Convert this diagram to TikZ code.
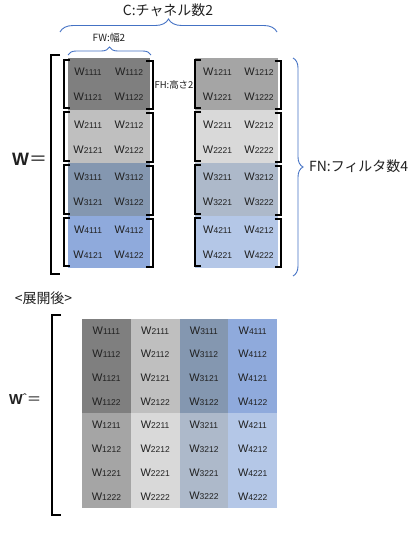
\documentclass[tikz,border=0pt]{standalone}
\usepackage{fontspec}
\setmainfont{Liberation Sans}
\newfontfamily\jp{Noto Sans CJK JP}
\usetikzlibrary{decorations.pathreplacing,calc}
\definecolor{txt}{HTML}{202020}
\definecolor{gA}{HTML}{7F7F7F}
\definecolor{gB}{HTML}{BFBFBF}
\definecolor{gC}{HTML}{8497B0}
\definecolor{gD}{HTML}{8FAADC}
\definecolor{gE}{HTML}{A5A5A5}
\definecolor{gF}{HTML}{D9D9D9}
\definecolor{gG}{HTML}{ADB9CA}
\definecolor{gH}{HTML}{B4C7E7}
\definecolor{braceblue}{HTML}{4472C4}
\newcommand\wsub[1]{{\fontsize{11}{11}\selectfont W}{\fontsize{8.5}{8.5}\selectfont #1}}
\begin{document}
\begin{tikzpicture}[x=1bp,y=-1bp,
  blk/.style={inner sep=0pt,outer sep=0pt,minimum height=52.5bp,anchor=north west,draw=none},
  wtext/.style={inner sep=0pt,text=txt},
  mcell/.style={inner sep=0pt,outer sep=0pt,minimum width=48.75bp,minimum height=23.7bp,anchor=north west,draw=none,text=txt},
  brk/.style={line width=2bp,black,line join=miter},
  bluebrace/.style={decorate,decoration={brace,amplitude=#1},draw=braceblue,line width=0.9bp},
  lbl/.style={inner sep=0pt,text=txt}]
\useasboundingbox (0,0) rectangle (419,533);

% upper blocks
\foreach \f/\cL/\cR in {1/gA/gE,2/gB/gF,3/gC/gG,4/gD/gH}{
  \pgfmathsetmacro\ytop{58+52.5*(\f-1)}
  \node[blk,fill=\cL,minimum width=82bp] (b\f1) at (68,\ytop) {};
  \node[blk,fill=\cR,minimum width=83bp] (b\f2) at (195,\ytop) {};
  % text
  \foreach \hw/\dx/\dy in {11/20/14,12/61/14,21/20/39,22/61/39}{
    \node[wtext] (t\f1\hw) at ($(b\f1.north west)+(\dx,\dy)$) {\wsub{\f1\hw}};
  }
  \foreach \hw/\dx/\dy in {11/22.5/14,12/64/14,21/22.5/39,22/64/39}{
    \node[wtext] (t\f2\hw) at ($(b\f2.north west)+(\dx,\dy)$) {\wsub{\f2\hw}};
  }
  % brackets
  \draw[brk] ($(b\f1.north west)+(2,2)$) -- ($(b\f1.north west)+(-4.5,2)$) -- ($(b\f1.south west)+(-4.5,-2)$) -- ($(b\f1.south west)+(2,-2)$);
  \draw[brk] ($(b\f1.north east)+(-4,3)$) -- ($(b\f1.north east)+(2.5,3)$) -- ($(b\f1.south east)+(2.5,-1)$) -- ($(b\f1.south east)+(-4,-1)$);
  \draw[brk] ($(b\f2.north west)+(6,2)$) -- ($(b\f2.north west)+(-0.5,2)$) -- ($(b\f2.south west)+(-0.5,-2)$) -- ($(b\f2.south west)+(6,-2)$);
  \draw[brk] ($(b\f2.north east)+(-3.5,3)$) -- ($(b\f2.north east)+(2.5,3)$) -- ($(b\f2.south east)+(2.5,-1)$) -- ($(b\f2.south east)+(-3.5,-1)$);
}

% big upper bracket
\coordinate (ub1) at (60,55);
\coordinate (ub2) at (51,55);
\coordinate (ub3) at (51,274);
\coordinate (ub4) at (60,274);
\draw[brk] (ub1) -- (ub2) -- (ub3) -- (ub4);

% labels upper
\node[lbl,anchor=west] (wlab) at (12,159.5) {\fontsize{18}{18}\selectfont\bfseries W{\jp\mdseries ＝}};
\node[lbl] (clab) at (168,10) {\jp\fontsize{14}{14}\selectfont C:チャネル数2};
\node[lbl] (fwlab) at (109,38) {\jp\fontsize{10}{10}\selectfont FW:幅2};
\node[lbl] (fhlab) at (174,85) {\jp\fontsize{9.5}{9.5}\selectfont FH:高さ2};
\node[lbl,anchor=west] (fnlab) at (309,166) {\jp\fontsize{14}{14}\selectfont FN:フィルタ数4};

% blue braces
\coordinate (cb1) at (60,32);
\coordinate (cb2) at (277,32);
\draw[bluebrace=13bp] (cb1) -- (cb2);
\coordinate (fw1) at (68,55);
\coordinate (fw2) at (151,55);
\draw[bluebrace=8bp] (fw1) -- (fw2);
\coordinate (fn1) at (293,58);
\coordinate (fn2) at (293,276);
\draw[bluebrace=10bp] (fn1) -- (fn2);

% lower part
\node[lbl] (explab) at (43.5,298.5) {\jp\fontsize{14}{14}\selectfont <展開後>};
\node[lbl,anchor=west] (whlab) at (9,399) {\fontsize{14.5}{14.5}\selectfont\bfseries W\raisebox{1.5bp}{\mdseries\fontsize{12}{12}\selectfont ˆ}{\jp\mdseries ＝}};

\foreach \j/\cA/\cB in {1/gA/gE,2/gB/gF,3/gC/gG,4/gD/gH}{
  \foreach \c/\col in {1/\cA,2/\cB}{
    \foreach \hw [count=\k] in {11,12,21,22}{
      \pgfmathsetmacro\xx{82+48.75*(\j-1)}
      \pgfmathsetmacro\yy{318.5+23.7*(4*(\c-1)+\k-1)}
      \node[mcell,fill=\col] (m\j\c\hw) at (\xx,\yy) {\wsub{\j\c\hw}};
    }
  }
}

\coordinate (lb1) at (61,315);
\coordinate (lb2) at (52,315);
\coordinate (lb3) at (52,515);
\coordinate (lb4) at (61,515);
\draw[brk] (lb1) -- (lb2) -- (lb3) -- (lb4);
\end{tikzpicture}
\end{document}
